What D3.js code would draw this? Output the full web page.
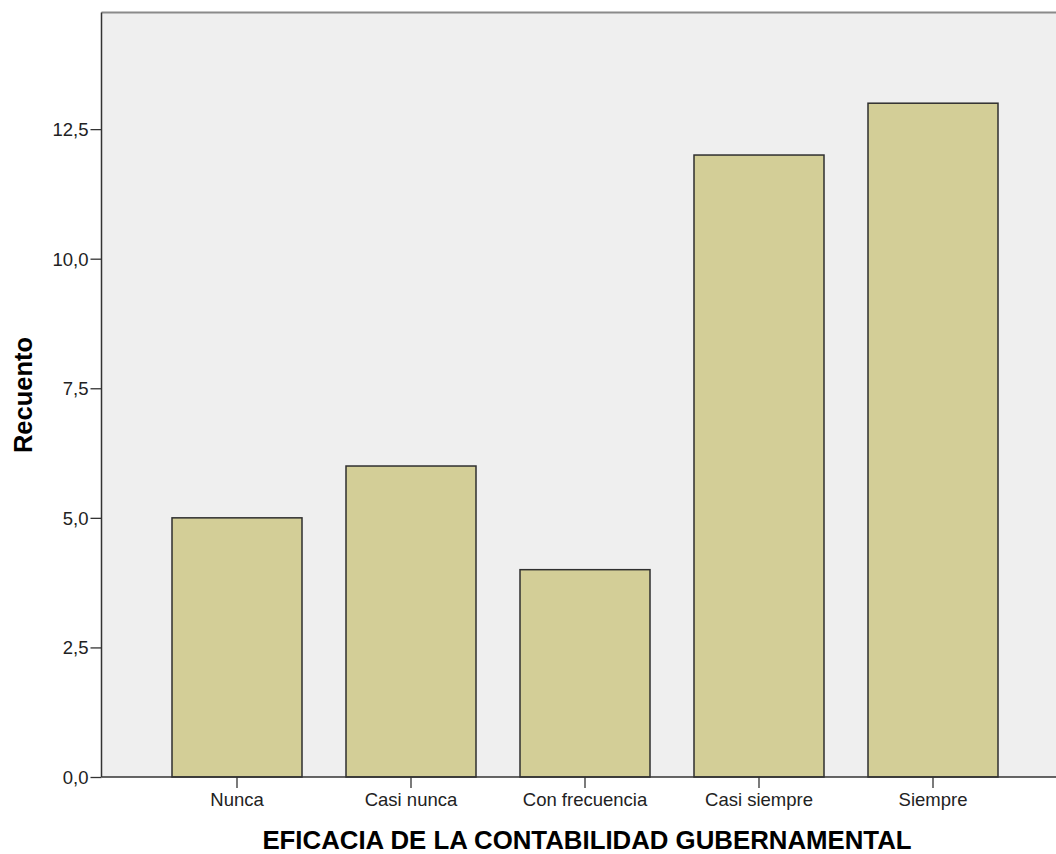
<!DOCTYPE html>
<html><head><meta charset="utf-8">
<script src="https://cdn.jsdelivr.net/npm/d3@7"></script>
<style>body{margin:0;background:#fff}svg{display:block}</style>
</head><body>
<script>
const categories = ["Nunca", "Casi nunca", "Con frecuencia", "Casi siempre", "Siempre"];
const counts = [5, 6, 4, 12, 13];
const yTicks = [0, 2.5, 5, 7.5, 10, 12.5];
const xTitle = "EFICACIA DE LA CONTABILIDAD GUBERNAMENTAL";
const yTitle = "Recuento";

const W = 1056, H = 854;
const pL = 101.5, pT = 12.5, pR = 1056, pB = 777;
const svg = d3.select("body").append("svg").attr("width", W).attr("height", H);

svg.append("rect").attr("x", pL).attr("y", pT).attr("width", pR - pL).attr("height", pB - pT).attr("fill", "#efefef");

const x = d3.scaleBand().domain(categories).range([150, 1020]).paddingInner(44/174).paddingOuter(22/174);
const y = d3.scaleLinear().domain([0, 14.75]).range([pB, pT]);

svg.selectAll("rect.bar").data(counts).join("rect").attr("class","bar")
  .attr("x", (d,i) => x(categories[i]))
  .attr("y", d => y(d))
  .attr("width", x.bandwidth())
  .attr("height", d => y(0) - y(d))
  .attr("fill", "#d3ce97").attr("stroke", "#2f2f2f").attr("stroke-width", 1.5);

// top border
svg.append("line").attr("x1", pL).attr("x2", pR).attr("y1", pT).attr("y2", pT).attr("stroke", "#8a8a8a").attr("stroke-width", 2);

const font = "'Liberation Sans', Arial, sans-serif";
const yAxis = d3.axisLeft(y).tickValues(yTicks).tickSize(11).tickPadding(2)
  .tickFormat(d => d3.format(".1f")(d).replace(".", ","));
const gy = svg.append("g").attr("transform", `translate(${pL},0)`).call(yAxis);
gy.select(".domain").attr("stroke", "#333").attr("stroke-width", 1.5).attr("d", `M0,${pT}V${pB}`);
gy.selectAll(".tick line").attr("stroke", "#333").attr("stroke-width", 1.3);
gy.selectAll(".tick text").attr("font-family", font).attr("font-size", 18.5).attr("fill", "#222").attr("dy", "0.35em");

const xAxis = d3.axisBottom(x).tickSize(11).tickPadding(5);
const gx = svg.append("g").attr("transform", `translate(0,${pB})`).call(xAxis);
gx.select(".domain").attr("stroke", "#333").attr("stroke-width", 1.5).attr("d", `M${pL},0H${pR}`);
gx.selectAll(".tick line").attr("stroke", "#333").attr("stroke-width", 1.3);
gx.selectAll(".tick text").attr("font-family", font).attr("font-size", 18.5).attr("fill", "#222");

svg.append("text").attr("x", 587).attr("y", 849).attr("text-anchor", "middle")
  .attr("font-family", font).attr("font-weight", "bold").attr("font-size", 25.8).attr("fill", "#000").text(xTitle);
svg.append("text").attr("transform", "translate(32,395) rotate(-90)").attr("text-anchor", "middle")
  .attr("font-family", font).attr("font-weight", "bold").attr("font-size", 25.5).attr("fill", "#000").text(yTitle);
</script>
</body></html>
